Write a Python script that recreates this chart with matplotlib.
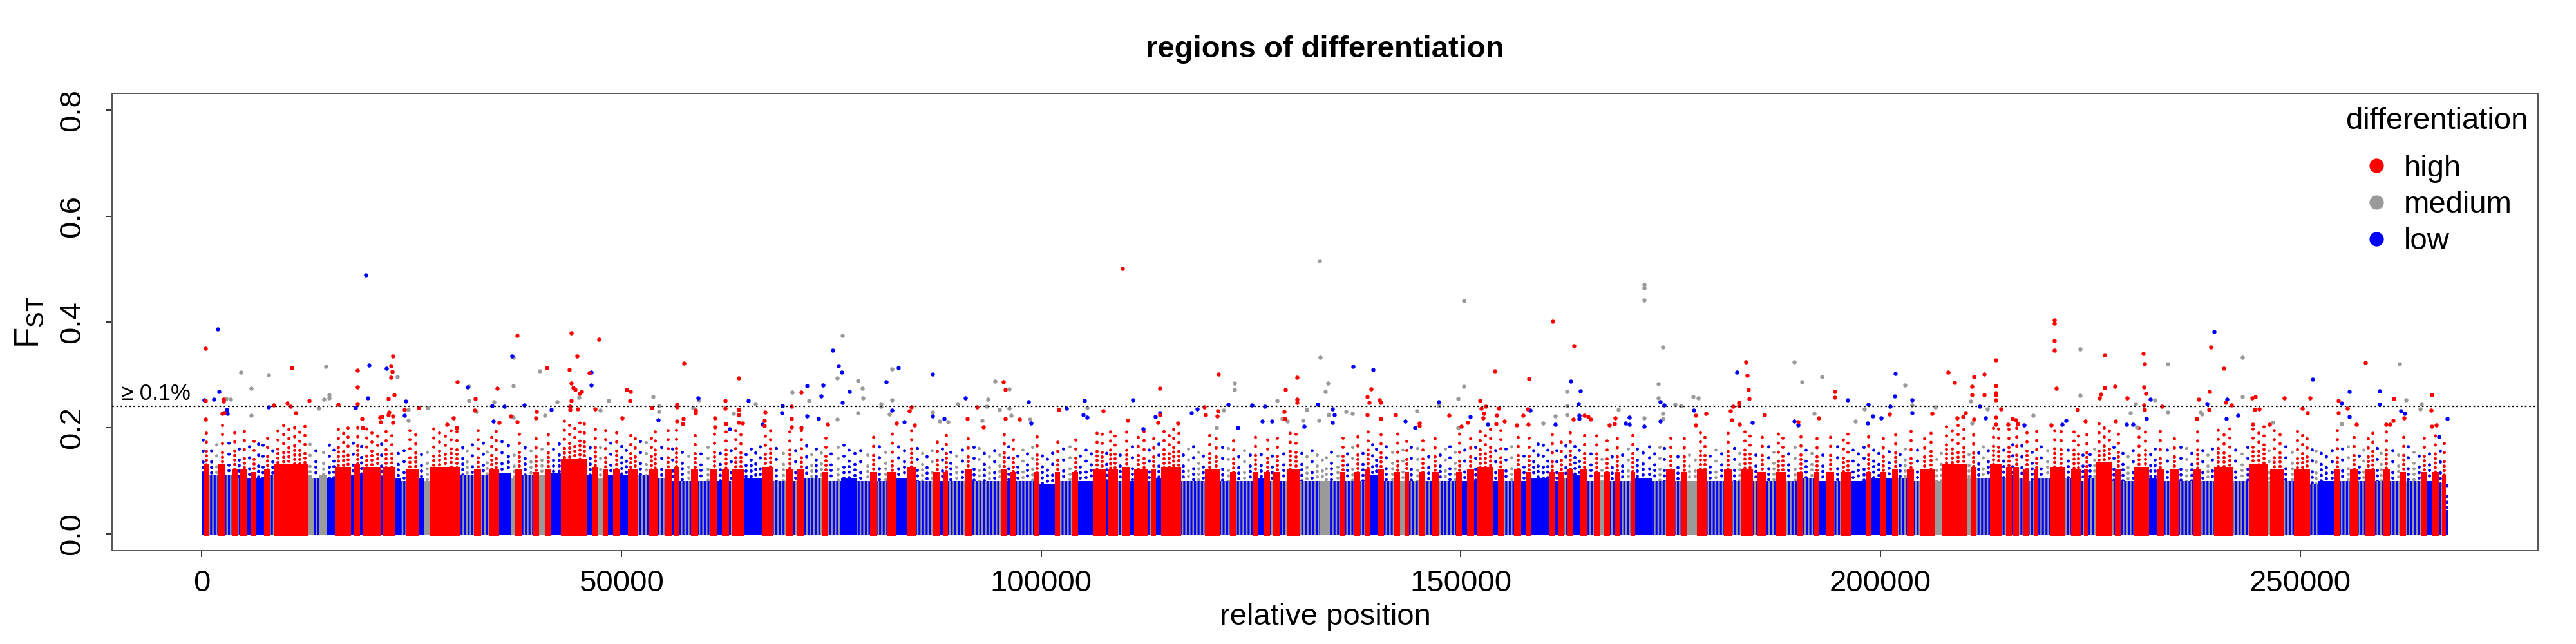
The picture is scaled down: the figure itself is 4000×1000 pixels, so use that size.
import numpy as np
import matplotlib.pyplot as plt
from matplotlib.lines import Line2D

plt.rcParams['font.family'] = ['Liberation Sans', 'DejaVu Sans']
plt.rcParams['mathtext.fontset'] = 'custom'
plt.rcParams['mathtext.rm'] = 'Liberation Sans'
plt.rcParams['mathtext.it'] = 'Liberation Sans:italic'
plt.rcParams['hatch.linewidth'] = 1.8

# dense base of the plot: runs of neighbouring loci sharing a class
# H = high, M = medium, L = low, B = low with medium loci interleaved
stripe_start = [
    0, 270, 800, 2030, 2740, 3620, 4150, 4680, 5310, 5910,
    6440, 7490, 8020, 8720, 12600, 13130, 14000, 14890, 15940, 17700,
    18230, 18760, 19290, 21220, 21580, 22980, 23690, 24390, 25800, 26500,
    27210, 30730, 32490, 33200, 34250, 35310, 36890, 37420, 38120, 39530,
    40060, 40940, 41470, 42880, 45870, 46580, 47100, 47810, 48340, 49040,
    49740, 50800, 51860, 53260,
    54270, 55190, 55890, 56250, 56770, 58360, 59060, 60650, 61350, 62060,
    62760, 63290, 64520, 66810, 68040, 69630, 70330, 71030, 71740, 74030,
    74550, 76140, 78080, 79660, 80360, 81770, 82650, 84060, 84940, 87230,
    87930, 88460, 88810, 90930, 91630, 95330, 95860, 96380, 96910, 99200,
    99730, 101670, 102190, 103780, 104310, 106240,
    107600, 107960, 109050, 109750, 110460, 111160, 112570, 113100, 113630, 114330,
    116620, 119610, 121200, 122600, 123130, 125240, 125770, 126650, 127180, 127710,
    128410, 129290, 130700, 133170, 134220, 135630, 136160, 137390, 137920, 138620,
    139150, 140210, 140740, 142150, 142670, 143380, 143730, 145140, 145670, 146550,
    147250, 149540, 150070, 150770, 151480, 152000, 153760, 154470, 155000, 156400,
    157110, 157810, 158340, 160630, 161160,
    161640, 162200, 162730, 163260, 164320, 165020, 165900, 166430, 167130, 167660,
    168360, 168890, 170300, 170650, 172770, 174530, 175410, 176290, 176820, 178220,
    179280, 181390, 182270, 183510, 184740, 185440, 186320, 187550, 188610, 190200,
    190720, 192130, 192660, 193540, 194420, 195300, 196360, 198290, 198820, 200050,
    200580, 201460, 201990, 203220, 203930, 204810, 206390, 207450, 210260, 210790,
    211320, 213080, 214310,
    215000, 215530, 215890, 216410, 217120, 217650, 218350, 218700, 220290, 221870,
    222750, 223810, 224340, 224690, 225740, 227500, 228030, 228560, 230320, 231910,
    232960, 233670, 234550, 235430, 237360, 238070, 239830, 241940, 244050, 245990,
    246520, 247930, 249340, 251100, 252150, 254090, 254620, 256030, 256730, 257790,
    258840, 259900, 260600, 262010, 262540, 264480, 265000, 265710, 266410, 266940,
    267290,
]
stripe_class = (
    "L H B H B H B H L H  L H B H M B M L H L  H L H L H L B H L M  "
    "H B H B H L M H B H  M H L H L H M H L H  L H B H "
    "B H B H B H B H L H  B H L H B H B H B H  B L B H B H L H B H  "
    "L H B H B H L H B H  L H B H L H "
    "L H B H L H B H L H  B H B H B H L H B H  B H B M B H B H B H  "
    "L H B H M H B H B H  B H L H L H L H B H  L H L H L "
    "H B H L H B H M H B  H B H L B H B H M H  B H B H B H B H B H  "
    "B H L H B H L H L H  L H B H B H M H M H  B H B "
    "H L H B H B H B H B  H B H B H B H B H L  H B H B H B H B H M  "
    "H B H B L H B H B H  B H B H B H L H B H  L"
).split()
# F_ST up to which each run is densely filled
stripe_top = [
    .115, .13, .11, .13, .11, .12, .105, .12, .105, .115,
    .105, .12, .11, .13, .11, .105, .11, .105, .125, .11,
    .13, .11, .125, .105, .125, .105, .10, .12, .105, .10,
    .125, .11, .12, .11, .12, .115, .105, .12, .11, .115,
    .11, .12, .115, .14, .11, .125, .105, .12, .11, .12,
    .11, .12, .11, .12,
    .105, .12, .10, .125, .10, .12, .10, .12, .10, .12,
    .10, .12, .105, .125, .10, .12, .10, .12, .105, .115,
    .10, .105, .10, .115, .10, .115, .105, .125, .10, .115,
    .10, .115, .10, .12, .10, .12, .10, .115, .10, .115,
    .095, .115, .10, .115, .10, .12,
    .10, .12, .10, .125, .10, .12, .10, .12, .105, .125,
    .10, .12, .10, .115, .10, .115, .105, .115, .10, .115,
    .10, .12, .10, .10, .10, .115, .10, .115, .10, .12,
    .11, .12, .10, .115, .10, .115, .10, .115, .10, .115,
    .10, .115, .10, .12, .10, .125, .10, .12, .10, .12,
    .10, .115, .105, .115, .10,
    .115, .105, .12, .11, .12, .10, .115, .10, .115, .10,
    .115, .10, .115, .105, .10, .12, .10, .115, .10, .12,
    .10, .12, .10, .12, .10, .115, .10, .115, .10, .115,
    .105, .115, .10, .115, .10, .115, .10, .115, .105, .115,
    .105, .12, .105, .12, .10, .12, .10, .13, .105, .125,
    .105, .13, .105,
    .125, .11, .125, .105, .12, .10, .12, .105, .125, .105,
    .12, .10, .12, .105, .135, .10, .12, .10, .125, .105,
    .12, .10, .12, .10, .12, .10, .125, .10, .13, .10,
    .12, .10, .12, .095, .10, .12, .10, .12, .10, .12,
    .10, .12, .10, .115, .10, .115, .10, .115, .095, .11,
    .045,
]
last_position = 267640
# how far the loose cloud of loci reaches above the dense part
cloud_reach = {'H': 0.075, 'M': 0.06, 'L': 0.065, 'B': 0.065}

# loci above the dense part
high_pos = [
    450, 450, 2560, 2560, 450, 2390, 2670, 10730, 18550, 18550, 18550, 22770, 22560, 22700, 22560,
    22880, 22240, 12770, 16220, 10200, 10590, 8580, 11190, 30450, 32560, 32490, 35200, 37560, 41120,
    39850, 44000, 44710, 43790, 44000, 44220, 44460, 44990, 45200, 44000, 43830, 43830, 44780, 47310,
    46120, 46820, 50620, 51050, 50980, 53580, 24110, 25800, 19080, 19150, 21190, 21440, 21260, 22280,
    22240, 22770, 22770, 29960, 30340, 29220, 35410, 36820, 37560, 39780, 50060,
    57410, 63920, 71420, 56560, 56560, 58820, 58820, 62370, 62370, 63990, 63990, 67130, 70220, 84520,
    84270, 92340, 95470, 95750, 95720, 102050, 107400, 91170, 57370, 57300, 56600, 61100, 61100, 62410,
    64410, 63960, 67050, 67020, 70220, 70220, 71420, 74550, 84910, 82720, 97370, 93080,
    109710, 160950, 154010, 158100, 130460, 121090, 114120, 129120, 139290, 138800, 139050, 140280,
    140460, 152290, 152960, 152430, 154500, 157950, 114120, 113940, 110280, 119400, 119610, 121020,
    120980, 128910, 129050, 130460, 130490, 138800, 142220, 140460, 148590, 152640, 152740, 154290,
    154220, 150070, 150770, 157390, 157990, 155170, 156650, 116300, 145030, 145030,
    163470, 163370, 164700, 165130, 165480, 168360, 168330, 167700, 177980, 177980, 179210, 183930,
    184140, 184280, 184310, 183120, 183120, 182380, 182130, 182270, 183190, 186150, 190200, 192590,
    194530, 194530, 201040, 206150, 208010, 208820, 210900, 211150, 210900, 212310, 212310, 213750,
    213720, 213750, 213750, 213750, 214310, 213750, 213750, 210090, 209810, 209100, 211150, 215190,
    220710, 220710, 220710, 220710, 220920, 226700, 226700, 227930, 226100, 226200, 223490, 231310,
    231480, 231380, 231630, 231340, 231410, 229370, 233490, 239370, 240920, 239200, 244270, 244650,
    244580, 245080, 241130, 241840, 239130, 237860, 237680, 248100, 251200, 250250, 254510, 255640,
    254550, 257790, 261100, 262330, 265640, 265600, 261060, 260250, 260710, 224410, 220320, 228000,
    215710, 216100, 216310, 256660, 266240, 265640, 244340, 250880, 246340,
]
high_fst = [
    .350, .251, .254, .250, .216, .227, .228, .313, .309, .277, .246, .335, .317, .306, .295,
    .263, .255, .252, .244, .247, .240, .243, .229, .287, .255, .233, .275, .374, .313,
    .231, .379, .335, .310, .285, .276, .272, .265, .268, .251, .240, .234, .236, .367,
    .304, .236, .272, .269, .252, .238, .235, .238, .218, .201, .220, .221, .211, .230,
    .225, .222, .210, .219, .201, .207, .210, .222, .211, .219, .219,
    .322, .294, .267, .244, .239, .233, .228, .251, .237, .234, .225, .230, .240, .239,
    .232, .239, .287, .272, .218, .234, .232, .217, .218, .208, .212, .219, .202, .208,
    .209, .210, .214, .204, .217, .202, .201, .206, .205, .209, .216, .202,
    .501, .401, .307, .293, .295, .302, .275, .272, .273, .259, .248, .253,
    .248, .251, .241, .237, .237, .236, .225, .210, .214, .239, .225, .232,
    .222, .231, .218, .254, .248, .225, .225, .218, .223, .219, .227, .223,
    .208, .203, .210, .223, .207, .213, .205, .209, .209, .204,
    .355, .216, .223, .221, .216, .219, .208, .205, .223, .205, .227, .324,
    .299, .272, .255, .248, .242, .240, .232, .215, .207, .225, .211, .219,
    .268, .258, .226, .227, .305, .286, .278, .297, .262, .301, .262, .328,
    .279, .266, .263, .253, .236, .220, .207, .228, .221, .219, .216, .206,
    .404, .398, .365, .347, .275, .338, .276, .278, .257, .264, .234, .340,
    .321, .277, .265, .243, .235, .257, .240, .352, .312, .269, .257, .259,
    .235, .236, .248, .243, .235, .254, .217, .256, .256, .237, .252, .237,
    .228, .323, .255, .219, .263, .233, .214, .207, .207, .213, .205, .213,
    .218, .215, .208, .207, .205, .203, .207, .229, .207,
]
medium_pos = [
    4680, 7980, 5840, 2910, 3440, 14780, 23270, 14570, 15170, 15170, 5840, 13940, 31820, 31820, 32700,
    34810, 37070, 37070, 40240, 42350, 44960, 47420, 48440, 53720, 24570, 26860, 24570, 37070, 40840,
    76320, 75720, 82230, 78150, 78710, 78740, 70290, 72300, 54410, 54410, 59170, 58530, 65930, 78180,
    80890, 80890, 82230, 81880, 90050, 93640, 93500, 94480, 96210, 95050, 96170, 105470, 96380, 87050,
    87860, 63360, 75720, 88920, 98600, 92940,
    133180, 150350, 133200, 123060, 123060, 134190, 133840, 150350, 149650, 147360, 121760, 128130,
    128730, 131650, 134220, 133100, 136270, 137040, 144750, 149650, 159750, 161260, 120910, 131160,
    129290,
    171820, 171820, 171820, 174030, 162590, 162590, 162590, 168750, 173540, 173540, 175510, 176180,
    177630, 178260, 171850, 174030, 174030, 189670, 190620, 192980, 192060, 197030, 198080, 202910,
    203750, 206500, 210720, 212730, 210900,
    223740, 223740, 232650, 230390, 229760, 234200, 234200, 243100, 243140, 238100, 238310, 261840,
    262570, 264440, 264260, 218140, 230500, 254930, 246730,
]
medium_fst = [
    .305, .300, .275, .255, .254, .316, .297, .254, .262, .257, .223, .237, .278, .251, .231,
    .249, .333, .280, .308, .249, .258, .233, .252, .259, .235, .238, .214, .220, .224,
    .374, .294, .311, .289, .275, .256, .267, .252, .242, .231, .253, .238, .245, .228,
    .246, .240, .253, .226, .245, .254, .240, .288, .273, .234, .237, .238, .224, .230,
    .213, .227, .216, .211, .216, .214,
    .515, .440, .333, .285, .272, .284, .269, .278, .255, .242, .233, .251,
    .218, .235, .225, .214, .231, .227, .232, .200, .209, .222, .201, .214,
    .212,
    .470, .464, .441, .353, .269, .242, .225, .235, .283, .256, .244, .242,
    .259, .256, .219, .217, .227, .325, .287, .297, .227, .212, .236, .281,
    .243, .239, .250, .236, .209,
    .349, .261, .253, .246, .228, .321, .230, .333, .259, .230, .226, .321,
    .253, .246, .236, .224, .202, .208, .210,
]
low_pos = [
    19520, 1860, 2030, 270, 1440, 2990, 3020, 19920, 19780, 18270, 21960, 7910, 31650, 34600, 36010,
    36930, 38370, 41610, 46400, 46400, 24320, 24150, 34740,
    75190, 75860, 76240, 83010, 87020, 81490, 72050, 74030, 73780, 77130, 76280, 59100, 65120, 69200,
    69100, 82230, 90930, 98460, 103000, 105150, 104980, 105430, 87020, 88460, 62860, 66770, 54340,
    73500, 72050, 83640, 98780,
    137150, 139540, 147320, 158270, 110910, 114150, 113630, 118550, 117920, 122250, 125140, 126620,
    132920, 134680, 134930, 134720, 143380, 151120, 153200, 161260, 112150, 131300, 126340, 127500,
    123380, 144500,
    163080, 164210, 164030, 164100, 164100, 169630, 170090, 170090, 173750, 174240, 177700, 171850,
    173750, 182840, 184700, 189740, 190200, 196110, 198540, 199070, 198430, 200050, 201780, 201640,
    203750, 203750, 201110, 211780, 212480,
    232120, 231700, 239720, 241240, 238880, 241200, 242580, 251480, 255850, 254930, 255880, 259480,
    259480, 262010, 262470, 267470, 217120, 222080, 221590, 229300, 230040, 266480,
]
low_fst = [
    .489, .387, .268, .253, .254, .235, .227, .318, .257, .238, .312, .239, .277, .242, .240,
    .336, .243, .234, .305, .281, .250, .223, .212,
    .347, .317, .305, .313, .302, .287, .279, .281, .260, .269, .248, .256, .251, .242,
    .229, .233, .256, .249, .237, .252, .225, .220, .222, .217, .198, .207, .215,
    .217, .222, .211, .209,
    .316, .310, .249, .233, .253, .229, .221, .236, .229, .244, .243, .241,
    .244, .236, .225, .210, .212, .221, .206, .206, .198, .203, .212, .212,
    .201, .201,
    .288, .270, .245, .223, .217, .209, .220, .207, .249, .243, .233, .203,
    .212, .305, .210, .212, .205, .253, .244, .222, .209, .219, .303, .260,
    .253, .228, .240, .240, .219,
    .254, .218, .382, .254, .246, .217, .224, .292, .268, .247, .221, .270,
    .244, .232, .227, .218, .205, .214, .206, .207, .207, .183,
]
threshold = 0.24
threshold_label = "\u2265 0.1%"
legend_labels = ['high', 'medium', 'low']

colors = {'high': '#ff0000', 'medium': '#9a9a9a', 'low': '#0000ff'}
class_color = {'H': colors['high'], 'M': colors['medium'], 'L': colors['low'], 'B': colors['low']}

assert len(stripe_start) == len(stripe_class) == len(stripe_top)
starts = np.array(stripe_start, dtype=float)
ends = np.append(starts[1:], last_position)
widths = ends - starts
tops = np.array(stripe_top)
reach = tops + np.array([cloud_reach[c] for c in stripe_class])
cls = np.array(stripe_class)

fig = plt.figure(figsize=(40, 10), dpi=100)
ax = fig.add_axes([0.0435, 0.145, 0.9418, 0.71])

# loose cloud above each run, drawn as dotted columns (one every ~650 positions);
# mixed runs alternate blue and grey columns, a second shorter layer thickens the lower part
col_step = 650
phases = [0.0, 0.55, 0.25, 0.8, 0.4, 0.95, 0.15, 0.65, 0.3, 0.85, 0.5, 0.1]
dash_gap = {'low': 3.4, 'medium': 3.4, 'high': 2.8}
cloud = {k: ([], [], [], []) for k in colors}
i = 0
for s, e, t, r, k in zip(starts, ends, tops, reach, cls):
    n = max(1, int(round((e - s) / col_step)))
    for j in range(n):
        if k == 'H':
            key = 'high'
        elif k == 'M' or (k == 'B' and j % 2 == 1):
            key = 'medium'
        else:
            key = 'low'
        x = s + (j + 0.5) * (e - s) / n
        gap = dash_gap[key]
        ph = phases[i % len(phases)]
        cloud[key][0].extend([x, x])
        cloud[key][1].extend([t, t])
        cloud[key][2].extend([r, t + 0.4 * (r - t)])
        cloud[key][3].extend([(-ph * gap, (0.01, gap)), (-(ph + 0.5) * gap, (0.01, gap))])
        i += 1
for key in ['low', 'medium', 'high']:
    xs, y0, y1, styles = cloud[key]
    lc = ax.vlines(xs, y0, y1, colors=colors[key], linewidth=3.6, linestyles=styles, zorder=1)
    lc.set_capstyle('round')

for c in 'LBMH':
    m = cls == c
    if c == 'B':
        kw = dict(hatch='|||', edgecolor=colors['medium'], linewidth=0)
    elif c == 'H':
        kw = dict(edgecolor=colors['high'], linewidth=1.5)
    else:
        kw = dict(edgecolor='none', linewidth=0)
    ax.bar(starts[m], tops[m] + 0.003, widths[m], bottom=-0.003, align='edge',
           facecolor=class_color[c], zorder=2, **kw)

ax.scatter(medium_pos, medium_fst, s=22, c=colors['medium'], linewidths=0, zorder=3)
ax.scatter(low_pos, low_fst, s=22, c=colors['low'], linewidths=0, zorder=3)
ax.scatter(high_pos, high_fst, s=22, c=colors['high'], linewidths=0, zorder=3)

ax.axhline(threshold, color='black', linestyle=(0, (1.2, 1.8)), linewidth=1.6, zorder=4)
ax.text(-9600, 0.253, threshold_label, fontsize=25, ha='left', va='baseline')

ax.set_xlim(-10700, 278340)
ax.set_ylim(-0.032, 0.832)
ax.set_xticks([0, 50000, 100000, 150000, 200000, 250000])
ax.set_xticklabels(['0', '50000', '100000', '150000', '200000', '250000'])
ax.set_yticks([0.0, 0.2, 0.4, 0.6, 0.8])
ax.set_yticklabels(['0.0', '0.2', '0.4', '0.6', '0.8'], rotation=90, va='center')
ax.tick_params(axis='both', labelsize=34, length=7, width=1.4, color='#333333')
ax.tick_params(axis='x', pad=14)
ax.tick_params(axis='y', pad=22)
for sp in ax.spines.values():
    sp.set_linewidth(1.4)
    sp.set_color('#555555')

ax.set_xlabel('relative position', fontsize=34, labelpad=6)
ax.set_ylabel(r'F$_{\mathrm{ST}}$', fontsize=38, labelpad=14)
ax.set_title('regions of differentiation', fontsize=34, fontweight='bold', pad=40)

# legend: title placed on its own, entries below it
fig.text(3784 / 4000, 1 - 188 / 1000, 'differentiation', fontsize=34, ha='center', va='center')
handles = [Line2D([], [], marker='o', linestyle='none', markersize=16,
                  markerfacecolor=colors[k], markeredgecolor='none') for k in legend_labels]
ax.legend(handles, legend_labels, loc='upper left', bbox_to_anchor=(0.9246, 0.88),
          frameon=False, fontsize=34, handletextpad=0.4, labelspacing=0.27,
          borderpad=0.2, handlelength=1.0, borderaxespad=0)

fig.savefig('out.png', dpi=100)
